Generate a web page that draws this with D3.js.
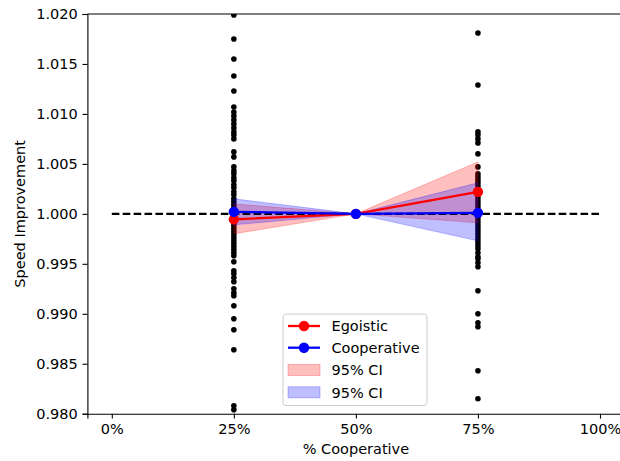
<!DOCTYPE html>
<html>
<head>
<meta charset="utf-8">
<script src="https://cdn.jsdelivr.net/npm/d3@7"></script>
<style>
  body { margin: 0; background: #fff; }
  svg { font-family: "DejaVu Sans", sans-serif; }
</style>
</head>
<body>
<div id="chart"></div>
<script>
// x positions (fraction cooperative)
var xPositions = [0.25, 0.5, 0.75];

// raw samples at 25% and 75%
var samples25 = [1.0199, 1.0175, 1.0155, 1.0138, 1.0123, 1.0107, 1.0102, 1.0098, 1.0094, 1.0090,
    1.0086, 1.0082, 1.0079, 1.0075, 1.0062, 1.0057, 1.0047, 1.0043, 1.0040, 1.0036, 1.0033,
    1.0029, 1.0026, 1.0022, 1.0019, 1.0015, 1.0012, 1.0009, 1.0006, 1.0003, 1.0000, 0.9997,
    0.9994, 0.9991, 0.9988, 0.9985, 0.9982, 0.9979, 0.9976, 0.9973, 0.9970, 0.9967, 0.9964,
    0.9961, 0.9958, 0.9952, 0.9943, 0.9940, 0.9936, 0.9932, 0.9925, 0.9921, 0.9918, 0.9908,
    0.9895, 0.9884, 0.9864, 0.9808, 0.9804];
var samples75 = [1.0181, 1.0129, 1.0082, 1.0079, 1.0075, 1.0071, 1.0060, 1.0047, 1.0040, 1.0037,
    1.0034, 1.0031, 1.0028, 1.0025, 1.0022, 1.0019, 1.0016, 1.0013, 1.0010, 1.0007, 1.0004,
    1.0001, 0.9998, 0.9995, 0.9992, 0.9989, 0.9986, 0.9983, 0.9980, 0.9977, 0.9974, 0.9971,
    0.9968, 0.9965, 0.9961, 0.9957, 0.9955, 0.9951, 0.9947, 0.9923, 0.9900, 0.9891, 0.9887,
    0.9843, 0.9815];

// means
var egoisticMean = [0.99945, 1.0000, 1.0022];
var cooperativeMean = [1.0002, 1.0000, 1.0001];

// 95% CI
var egoisticLow = [0.9980, 1.0000, 0.9991];
var egoisticHigh = [1.0010, 1.0000, 1.0052];
var cooperativeLow = [0.9989, 1.0000, 0.9973];
var cooperativeHigh = [1.0015, 1.0000, 1.0031];

var xTicks = [0, 0.25, 0.5, 0.75, 1.0];
var yTicks = [0.980, 0.985, 0.990, 0.995, 1.000, 1.005, 1.010, 1.015, 1.020];

var svgWidth = 620, svgHeight = 461;
var margin = { top: 14, left: 87.4, bottom: 47.3 };
var plotRight = 624.4;
var fontSize = 14.5;

var svg = d3.select("#chart").append("svg")
    .attr("width", svgWidth)
    .attr("height", svgHeight);

var x = d3.scaleLinear().domain([-0.05, 1.05]).range([margin.left, plotRight]);
var y = d3.scaleLinear().domain([0.980, 1.020]).range([svgHeight - margin.bottom, margin.top]);

svg.append("clipPath").attr("id", "clip")
    .append("rect")
    .attr("x", margin.left).attr("y", margin.top)
    .attr("width", plotRight - margin.left)
    .attr("height", y(0.980) - margin.top);

var plot = svg.append("g").attr("clip-path", "url(#clip)");

// scatter of samples
var points = samples25.map(v => ({ x: 0.25, y: v }))
    .concat(samples75.map(v => ({ x: 0.75, y: v })));
plot.selectAll("circle.sample")
    .data(points)
    .enter()
    .append("circle")
    .attr("class", "sample")
    .attr("cx", d => x(d.x))
    .attr("cy", d => y(d.y))
    .attr("r", 2.8)
    .attr("fill", "black");

// CI bands
function band(low, high) {
    return d3.area()
        .x((d, i) => x(xPositions[i]))
        .y0((d, i) => y(low[i]))
        .y1((d, i) => y(high[i]))(xPositions);
}
plot.append("path")
    .attr("d", band(egoisticLow, egoisticHigh))
    .attr("fill", "rgba(255,0,0,0.25)")
    .attr("stroke", "rgba(255,0,0,0.25)")
    .attr("stroke-width", 1);
plot.append("path")
    .attr("d", band(cooperativeLow, cooperativeHigh))
    .attr("fill", "rgba(0,0,255,0.25)")
    .attr("stroke", "rgba(0,0,255,0.25)")
    .attr("stroke-width", 1);

// baseline
plot.append("line")
    .attr("x1", x(0)).attr("x2", x(1))
    .attr("y1", y(1)).attr("y2", y(1))
    .attr("stroke", "black")
    .attr("stroke-width", 2.2)
    .attr("stroke-dasharray", "7.6,3.3");

// mean lines
function meanLine(values, color) {
    var line = d3.line()
        .x((d, i) => x(xPositions[i]))
        .y(d => y(d));
    plot.append("path")
        .attr("d", line(values))
        .attr("fill", "none")
        .attr("stroke", color)
        .attr("stroke-width", 2.3);
    plot.selectAll(null)
        .data(values)
        .enter()
        .append("circle")
        .attr("cx", (d, i) => x(xPositions[i]))
        .attr("cy", d => y(d))
        .attr("r", 5.2)
        .attr("fill", color);
}
meanLine(egoisticMean, "#ff0000");
meanLine(cooperativeMean, "#0000ff");

// axes
var bottomAxis = d3.axisBottom(x).tickValues(xTicks)
    .tickFormat(d => Math.round(d * 100) + "%")
    .tickSize(4.9).tickPadding(4.8);
var leftAxis = d3.axisLeft(y).tickValues(yTicks)
    .tickFormat(d3.format(".3f"))
    .tickSize(4.9).tickPadding(4.8);

var gx = svg.append("g")
    .attr("transform", `translate(0, ${y(0.980)})`)
    .call(bottomAxis);
var gy = svg.append("g")
    .attr("transform", `translate(${margin.left}, 0)`)
    .call(leftAxis);
[gx, gy].forEach(g => {
    g.selectAll("text").attr("font-size", fontSize).attr("fill", "black")
        .attr("font-family", "DejaVu Sans");
    g.selectAll("line").attr("stroke", "black").attr("stroke-width", 1.1);
    g.select(".domain").attr("stroke", "black").attr("stroke-width", 1.1);
});

// top and right spines
svg.append("line")
    .attr("x1", margin.left).attr("x2", plotRight)
    .attr("y1", margin.top).attr("y2", margin.top)
    .attr("stroke", "black").attr("stroke-width", 1.1);
svg.append("line")
    .attr("x1", plotRight).attr("x2", plotRight)
    .attr("y1", margin.top).attr("y2", y(0.980))
    .attr("stroke", "black").attr("stroke-width", 1.1);

// axis titles
svg.append("text")
    .attr("x", x(0.5))
    .attr("y", 454)
    .attr("text-anchor", "middle")
    .attr("font-size", fontSize)
    .text("% Cooperative");
svg.append("text")
    .attr("transform", `translate(25, ${y(1.0)}) rotate(-90)`)
    .attr("text-anchor", "middle")
    .attr("font-size", fontSize)
    .text("Speed Improvement");

// legend
var legend = svg.append("g");
legend.append("rect")
    .attr("x", 283).attr("y", 314)
    .attr("width", 144).attr("height", 91.5)
    .attr("rx", 3)
    .attr("fill", "rgba(255,255,255,0.8)")
    .attr("stroke", "#cccccc")
    .attr("stroke-width", 1);

var legendItems = [
    { label: "Egoistic", color: "#ff0000", type: "line" },
    { label: "Cooperative", color: "#0000ff", type: "line" },
    { label: "95% CI", color: "255,0,0", type: "patch" },
    { label: "95% CI", color: "0,0,255", type: "patch" }
];
var legendY = [326, 347.7, 370, 392.3];

legendItems.forEach((item, i) => {
    var cy = legendY[i];
    if (item.type === "line") {
        legend.append("line")
            .attr("x1", 288).attr("x2", 320)
            .attr("y1", cy).attr("y2", cy)
            .attr("stroke", item.color).attr("stroke-width", 2.3);
        legend.append("circle")
            .attr("cx", 304).attr("cy", cy).attr("r", 5.2)
            .attr("fill", item.color);
    } else {
        legend.append("rect")
            .attr("x", 288).attr("y", cy - 5.5)
            .attr("width", 32).attr("height", 11)
            .attr("fill", `rgba(${item.color},0.25)`)
            .attr("stroke", `rgba(${item.color},0.25)`);
    }
    legend.append("text")
        .attr("x", 331.5).attr("y", cy + 5.2)
        .attr("font-size", fontSize)
        .text(item.label);
});
</script>
</body>
</html>
